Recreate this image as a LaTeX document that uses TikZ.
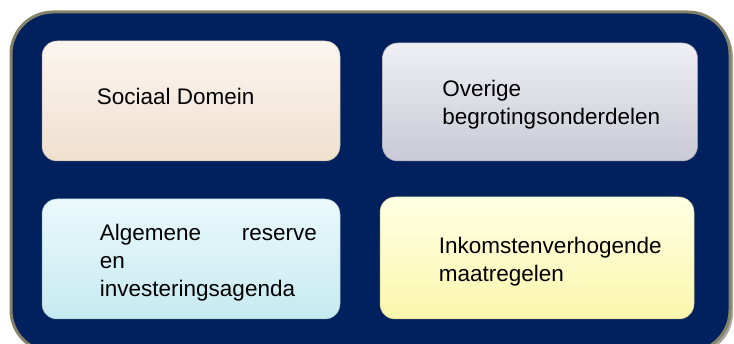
\documentclass[tikz,border=0pt]{standalone}
\usepackage{fontspec}
\setmainfont{Liberation Sans}
\usetikzlibrary{positioning}

\definecolor{navy}{RGB}{0,32,94}
\definecolor{rim}{RGB}{132,130,104}
\definecolor{rimshadow}{RGB}{168,168,160}
\definecolor{peachtop}{RGB}{251,245,240}
\definecolor{peachbot}{RGB}{240,224,206}
\definecolor{greytop}{RGB}{238,238,244}
\definecolor{greybot}{RGB}{202,202,214}
\definecolor{cyantop}{RGB}{234,249,252}
\definecolor{cyanbot}{RGB}{198,234,240}
\definecolor{yellowtop}{RGB}{255,255,228}
\definecolor{yellowbot}{RGB}{250,246,172}

\begin{document}
\begin{tikzpicture}[x = 1pt, y = -1pt,
    blok/.style 2 args = {rectangle, rounded corners = 15pt, inner sep = 0pt,
        top color = #1, bottom color = #2, draw = #2!80!black, line width = 0.5pt},
    txt/.style = {inner sep = 0pt, align = left, font = \fontsize{22.5}{28}\selectfont}]
    \useasboundingbox (0,0) rectangle (734,344);

    % Frame
    \fill[rimshadow, rounded corners = 42pt] (14,15) rectangle (733,355);
    \draw[rim, line width = 3pt, fill = navy, rounded corners = 42pt] (11,12) rectangle (730,352);

    % Boxes with manual coordinates
    \node[blok = {peachtop}{peachbot}, minimum width = 298pt, minimum height = 120pt] (sociaal) at (191,101) {};
    \node[blok = {greytop}{greybot}, minimum width = 315pt, minimum height = 118pt] (overig) at (540,102) {};
    \node[blok = {cyantop}{cyanbot}, minimum width = 298pt, minimum height = 120pt] (reserve) at (191,259) {};
    \node[blok = {yellowtop}{yellowbot}, minimum width = 314pt, minimum height = 122pt] (inkomsten) at (537,258) {};

    % Texts
    \node[txt, right = 55pt of sociaal.west, yshift = 5pt] (tsociaal) {Sociaal Domein};
    \node[txt, right = 60pt of overig.west, yshift = -3pt] (toverig) {Overige\\begrotingsonderdelen};
    \node[txt, text width = 217pt, right = 58pt of reserve.west, yshift = -4pt] (treserve)
        {Algemene\hfill reserve\\en\\investeringsagenda};
    \node[txt, right = 59pt of inkomsten.west, yshift = -4pt] (tinkomsten) {Inkomstenverhogende\\maatregelen};
\end{tikzpicture}
\end{document}
